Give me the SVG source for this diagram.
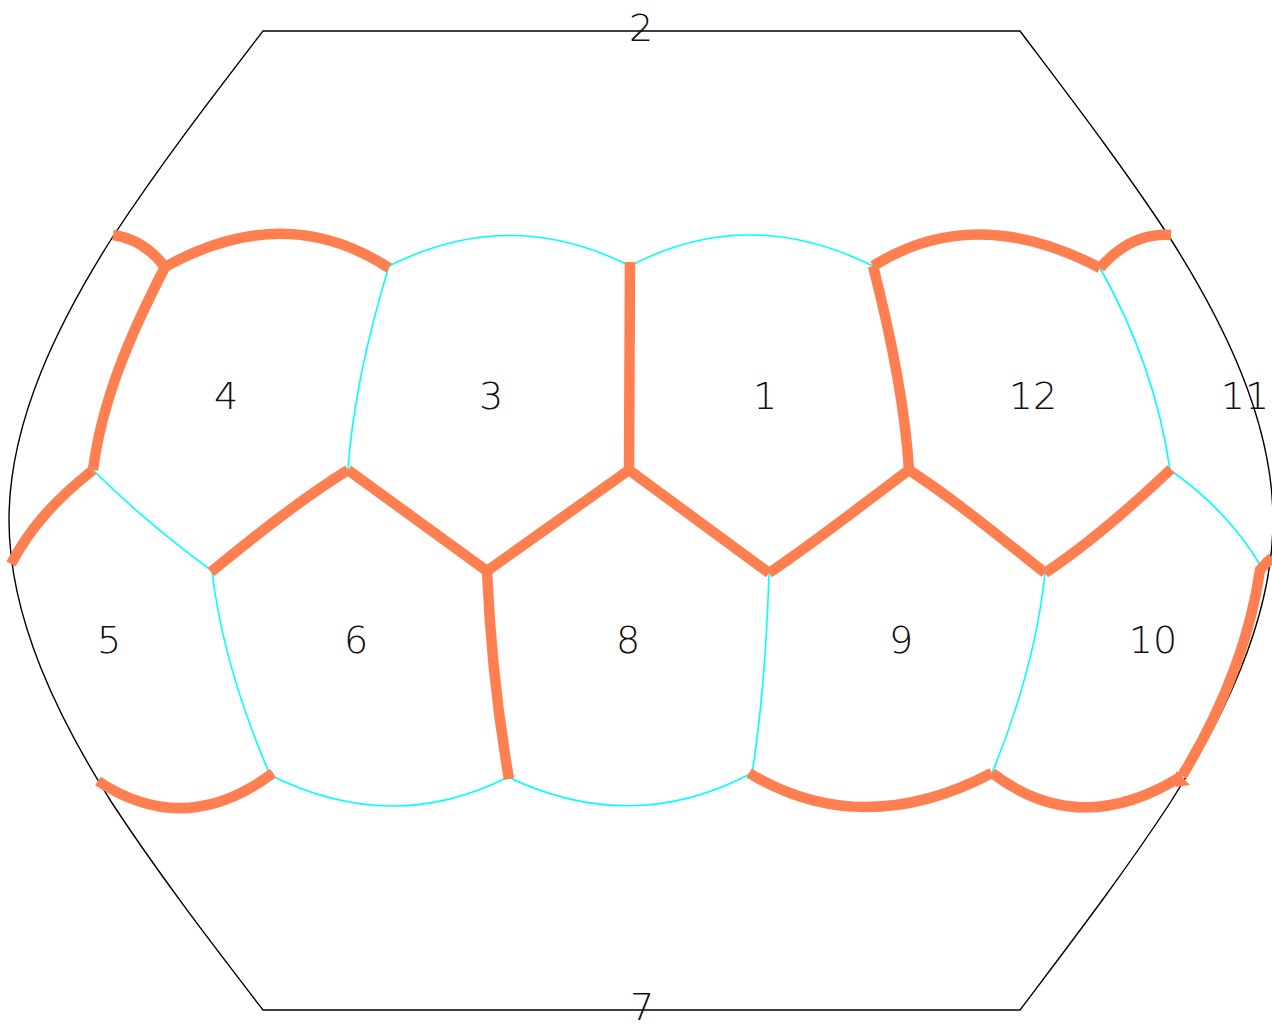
<svg xmlns="http://www.w3.org/2000/svg" width="1272" height="1024" viewBox="0 0 1272 1024">
<style>
.o{fill:none;stroke:#000;stroke-width:1.4}
.c{fill:none;stroke:#00ffff;stroke-width:1.6}
.t{fill:none;stroke:#ff7f50;stroke-width:10.5}
text{font-family:"DejaVu Sans",sans-serif;font-weight:200;font-size:38px;fill:#111;text-anchor:middle}
</style>
<rect width="1272" height="1024" fill="#fff"/>
<g id="connectors">
<path class="o" d="M263 31H1020C1072 100 1122 165 1170 238C1222 320 1273 420 1273 520C1273 620 1222 721 1170 803C1122 876 1072 941 1020 1010H263C210 941 160 876 112 803C60 721 9 620 9 520C9 420 60 320 112 238C160 165 210 100 263 31Z"/>
<g>
<path class="c" d="M389 266Q510 205 630 266"/>
<path class="c" d="M630 266Q748 204 873 266"/>
<path class="c" d="M1100 268C1135 330 1160 400 1170 470"/>
<path class="c" d="M1170 470C1210 498 1240 530 1262 568"/>
<path class="c" d="M389 266C365 345 352 410 348 470"/>
<path class="c" d="M93 470C130 507 170 540 212 571"/>
<path class="c" d="M212 571C220 640 240 705 270 775"/>
<path class="c" d="M270 775Q392 836 508 777"/>
<path class="c" d="M508 777Q632 836 750 774"/>
<path class="c" d="M769 573C767 640 762 710 752 774"/>
<path class="c" d="M1045 573C1038 640 1020 705 992 773"/>
</g>
<g>
<path class="t" d="M113 235C135 238 152 250 165 267"/>
<path class="t" d="M165 267Q285 200 389 268"/>
<path class="t" d="M165 267C130 335 102 400 93 470"/>
<path class="t" d="M93 470C55 500 30 528 11 564"/>
<path class="t" d="M211 572C255 536 300 500 348 470"/>
<path class="t" d="M348 470L487 571"/>
<path class="t" d="M487 571L629 470"/>
<path class="t" d="M630 262L629 470"/>
<path class="t" d="M629 470L769 573"/>
<path class="t" d="M769 573C815 542 862 505 909 470"/>
<path class="t" d="M873 266C892 340 905 405 909 470"/>
<path class="t" d="M909 470C955 500 1000 537 1045 573"/>
<path class="t" d="M1045 573C1090 543 1130 508 1171 469"/>
<path class="t" d="M873 266Q975 202 1100 268"/>
<path class="t" d="M1100 268C1120 245 1143 233 1171 235"/>
<path class="t" d="M1272 558C1268 561 1264 565 1260 570C1250 640 1222 710 1182 776"/>
<path class="t" d="M1182 776Q1080 840 992 773"/>
<path class="t" d="M992 773Q862 841 749 773"/>
<path class="t" d="M487 571C490 640 497 710 509 779"/>
<path class="t" d="M98 781Q185 839 273 773"/>
<path d="M1176 771L1190 785L1176 787Z" fill="#ff7f50"/>
</g>
</g>
<g id="n1"><text x="765" y="409">1</text></g>
<g id="n2"><text x="641" y="41">2</text></g>
<g id="n3"><text x="491" y="409">3</text></g>
<g id="n4"><text x="226" y="409">4</text></g>
<g id="n5"><text x="109" y="653">5</text></g>
<g id="n6"><text x="356" y="653">6</text></g>
<g id="n7"><text x="642" y="1020">7</text></g>
<g id="n8"><text x="628" y="653">8</text></g>
<g id="n9"><text x="901" y="653">9</text></g>
<g id="n10"><text x="1153" y="653">10</text></g>
<g id="n11"><text x="1245" y="409">11</text></g>
<g id="n12"><text x="1033" y="409">12</text></g>
</svg>
